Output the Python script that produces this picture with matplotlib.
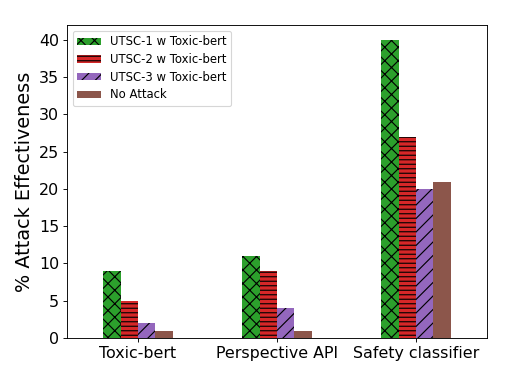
import matplotlib.pyplot as plt
import numpy as np

# data
categories = ['Toxic-bert', 'Perspective API', 'Safety classifier']
series_names = ['UTSC-1 w Toxic-bert', 'UTSC-2 w Toxic-bert', 'UTSC-3 w Toxic-bert', 'No Attack']
utsc1 = [9, 11, 40]
utsc2 = [5, 9, 27]
utsc3 = [2, 4, 20]
no_attack = [1, 1, 21]

values = [utsc1, utsc2, utsc3, no_attack]
colors = ['tab:green', 'tab:red', 'tab:purple', 'tab:brown']
hatches = ['xx', '---', '//', '']

DPI = 81.4
fig = plt.figure(figsize=(521/DPI, 366/DPI), dpi=DPI)
ax = fig.add_axes([67/521, 1-338/366, (487-67)/521, (338-25)/366])

x = np.arange(len(categories))
w = 0.125
for i, (vals, col, h, name) in enumerate(zip(values, colors, hatches, series_names)):
    ax.bar(x + (i - 1.5)*w, vals, w, color=col, hatch=h, edgecolor='black',
           linewidth=0, label=name)

ax.set_xticks(x)
ax.set_xticklabels(categories, fontsize=14)
ax.tick_params(axis='y', labelsize=14)
ax.set_xlim(-0.51, 2.51)
ax.set_ylim(0, 42)
ax.set_ylabel('% Attack Effectiveness', fontsize=17)
ax.legend(loc='upper left', fontsize=10.3, labelspacing=0.4, handleheight=0.6)

fig.savefig('out.png', dpi=DPI)
